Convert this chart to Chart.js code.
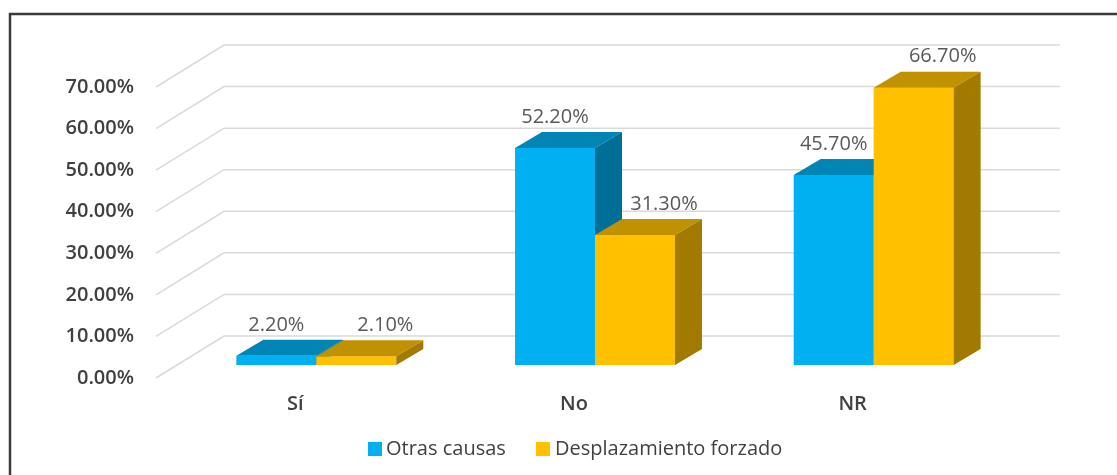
<!DOCTYPE html>
<html>
<head>
<meta charset="utf-8">
<script src="https://cdn.jsdelivr.net/npm/chart.js@4"></script>
<style>
  html, body { margin: 0; padding: 0; background: #fff; }
  #wrap { width: 1117px; height: 475px; position: relative; }
</style>
</head>
<body>
<div id="wrap"><canvas id="chart" width="1117" height="475"></canvas></div>
<script>
const categories = ["Sí", "No", "NR"];
const otrasCausas = [0.022, 0.522, 0.457];
const desplazamiento = [0.021, 0.313, 0.667];
const seriesNames = ["Otras causas", "Desplazamiento forzado"];

// face colours: front, top, side
const blueFaces = ["#00B0F0", "#0085B5", "#006F98"];
const yellowFaces = ["#FFC000", "#C09100", "#A27A00"];

// oblique depth of the floor and of the bars
const FLOOR_DX = 68, FLOOR_DY = 42;
const BAR_DX1 = 21, BAR_DY1 = 13;
const BAR_DX2 = 27, BAR_DY2 = 16;

const FONT = "'Open Sans', sans-serif";

const bar3d = {
  id: "bar3d",
  beforeDraw(chart) {
    const ctx = chart.ctx;
    ctx.save();
    ctx.strokeStyle = "#3a3a3a";
    ctx.lineWidth = 2.5;
    ctx.beginPath();
    ctx.moveTo(10, 475);
    ctx.lineTo(10, 14);
    ctx.lineTo(1117, 14);
    ctx.stroke();
    ctx.restore();
  },
  beforeDatasetsDraw(chart) {
    const ctx = chart.ctx;
    const area = chart.chartArea;
    const y = chart.scales.y;

    // 3D grid: floor slant + back wall
    ctx.save();
    ctx.strokeStyle = "#D9D9D9";
    ctx.lineWidth = 1.5;
    y.ticks.forEach((t) => {
      const py = y.getPixelForValue(t.value);
      ctx.beginPath();
      ctx.moveTo(area.left, py);
      ctx.lineTo(area.left + FLOOR_DX, py - FLOOR_DY);
      ctx.lineTo(area.right + FLOOR_DX, py - FLOOR_DY);
      ctx.stroke();
    });
    ctx.restore();

    // boxes, category by category so the right bar covers the left one's side
    const metas = chart.data.datasets.map((d, i) => chart.getDatasetMeta(i));
    categories.forEach((c, idx) => {
      metas.forEach((meta, di) => {
        const el = meta.data[idx];
        const faces = chart.data.datasets[di].faces;
        const x0 = el.x - el.width / 2 + BAR_DX1;
        const x1 = el.x + el.width / 2 + BAR_DX1;
        const top = el.y - BAR_DY1;
        const bot = el.base - BAR_DY1;
        ctx.save();
        // front
        ctx.fillStyle = faces[0];
        ctx.fillRect(x0, top, x1 - x0, bot - top);
        // top
        ctx.fillStyle = faces[1];
        ctx.beginPath();
        ctx.moveTo(x0, top);
        ctx.lineTo(x0 + BAR_DX2, top - BAR_DY2);
        ctx.lineTo(x1 + BAR_DX2, top - BAR_DY2);
        ctx.lineTo(x1, top);
        ctx.closePath();
        ctx.fill();
        // side
        ctx.fillStyle = faces[2];
        ctx.beginPath();
        ctx.moveTo(x1, top);
        ctx.lineTo(x1 + BAR_DX2, top - BAR_DY2);
        ctx.lineTo(x1 + BAR_DX2, bot - BAR_DY2);
        ctx.lineTo(x1, bot);
        ctx.closePath();
        ctx.fill();
        ctx.restore();
      });
    });

    // value labels
    ctx.save();
    ctx.font = "20px " + FONT;
    ctx.fillStyle = "#595959";
    ctx.textAlign = "center";
    ctx.textBaseline = "middle";
    metas.forEach((meta, di) => {
      const shift = di === 0 ? 0 : 29;
      meta.data.forEach((el, i) => {
        const v = chart.data.datasets[di].data[i];
        const label = (v * 100).toFixed(2) + "%";
        ctx.fillText(label, el.x + BAR_DX1 + shift, el.y - BAR_DY1 - 31);
      });
    });
    ctx.restore();

    // legend
    ctx.save();
    ctx.font = "20px " + FONT;
    ctx.textBaseline = "middle";
    ctx.fillStyle = blueFaces[0];
    ctx.fillRect(368, 442, 14, 14);
    ctx.fillStyle = "#404040";
    ctx.fillText(seriesNames[0], 386, 449);
    ctx.fillStyle = yellowFaces[0];
    ctx.fillRect(536, 442, 14, 14);
    ctx.fillStyle = "#404040";
    ctx.fillText(seriesNames[1], 555, 449);
    ctx.restore();

    return false;
  },
};

const ctx = document.getElementById("chart").getContext("2d");
new Chart(ctx, {
  type: "bar",
  data: {
    labels: categories,
    datasets: [
      {
        label: seriesNames[0],
        data: otrasCausas,
        backgroundColor: blueFaces[0],
        faces: blueFaces,
        categoryPercentage: 0.574,
        barPercentage: 1,
      },
      {
        label: seriesNames[1],
        data: desplazamiento,
        backgroundColor: yellowFaces[0],
        faces: yellowFaces,
        categoryPercentage: 0.574,
        barPercentage: 1,
      },
    ],
  },
  options: {
    responsive: false,
    animation: false,
    layout: {
      padding: { top: 87, right: 125, left: 0, bottom: 0 },
    },
    plugins: {
      legend: { display: false },
      tooltip: { enabled: false },
    },
    scales: {
      y: {
        min: 0,
        max: 0.7,
        ticks: {
          stepSize: 0.1,
          padding: 22,
          color: "#404040",
          font: { family: FONT, size: 20, weight: "600" },
          callback: (v) => (v * 100).toFixed(2) + "%",
        },
        grid: { display: false, drawTicks: false },
        border: { display: false },
        afterFit: (scale) => {
          scale.width = 156;
        },
      },
      x: {
        ticks: {
          padding: 14,
          color: "#404040",
          font: { family: FONT, size: 20, weight: "600" },
        },
        grid: { display: false, drawTicks: false },
        border: { display: false },
        afterFit: (scale) => {
          scale.height = 97;
        },
      },
    },
  },
  plugins: [bar3d],
});
</script>
</body>
</html>
